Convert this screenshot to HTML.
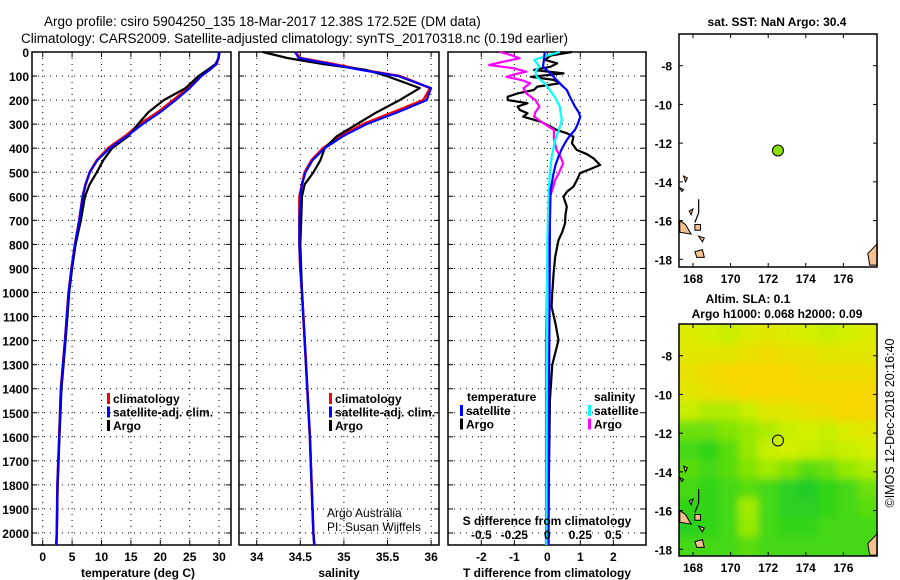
<!DOCTYPE html>
<html><head><meta charset="utf-8">
<style>
html,body{margin:0;padding:0;background:#fff;}
svg{display:block;font-family:"Liberation Sans",sans-serif;}
.t{font-weight:bold;font-size:12px;fill:#000;}
.ti{font-size:13.5px;fill:#000;}
</style></head>
<body>
<svg id="chart" width="900" height="580" viewBox="0 0 900 580" xmlns="http://www.w3.org/2000/svg">
<text class="ti" x="44" y="26">Argo profile: csiro 5904250_135 18-Mar-2017 12.38S 172.52E (DM data)</text>
<text class="ti" x="21" y="43">Climatology: CARS2009. Satellite-adjusted climatology: synTS_20170318.nc (0.19d earlier)</text>
<g id="g"></g>
</svg>
<script>
// ---- data ----
const depthT = [0,25,50,75,100,150,200,250,300,350,400,450,500,550,600,700,800,900,1000,1200,1400,1600,1800,2000,2050];
const tempClim = [30,29.9,29.6,28.3,26.7,24.7,22.2,19.6,16.5,14,11.1,9.2,8.0,7.3,6.8,6.2,5.5,4.9,4.4,3.8,3.1,2.8,2.5,2.4,2.3];
const tempSat  = [30,29.9,29.5,28.4,27.0,25.0,22.6,20.0,17.0,14.3,11.4,9.3,8.0,7.3,6.8,6.2,5.5,4.9,4.4,3.8,3.1,2.8,2.5,2.4,2.3];
const tempArgo = [30.1,29.9,29.4,28.0,26.5,24.3,20.6,18.0,16.2,14.6,11.8,10.3,9.2,8.0,7.2,6.5,5.6,5.0,4.5,3.9,3.2,2.85,2.55,2.4,2.35];
const salClim = [34.44,34.5,34.88,35.22,35.64,35.99,35.91,35.57,35.22,34.96,34.76,34.63,34.55,34.52,34.49,34.49,34.49,34.5,34.52,34.55,34.58,34.61,34.63,34.65,34.66];
const salSat  = [34.44,34.48,34.84,35.2,35.62,36.0,35.95,35.62,35.26,34.99,34.78,34.64,34.56,34.52,34.5,34.49,34.49,34.5,34.52,34.55,34.58,34.61,34.63,34.65,34.66];
const salArgo = [34.07,34.35,34.76,35.26,35.49,35.87,35.64,35.38,35.15,34.92,34.78,34.73,34.65,34.55,34.52,34.51,34.5,34.51,34.52,34.55,34.58,34.61,34.63,34.65,34.66];
// difference panel: each series has its own depth levels
const depthTArgoD = [0,15,33,47,61,75,89,103,116,130,144,158,172,186,200,213,227,241,255,269,290,310,324,338,352,380,407,425,442,456,470,487,504,532,560,580,602,643,680,712,750,782,851,920,1000,1059,1130,1198,1300,1450,1650,1850,2050];
const dTArgo      = [0.74,0.1,-0.07,0.3,0.1,-0.4,0.49,-0.5,0.2,0.38,-0.3,-0.41,-0.9,-1.2,-1.2,-0.6,-0.9,-0.83,-0.6,-0.73,-0.2,0.1,0.28,0.6,0.79,0.75,0.89,1.2,1.4,1.5,1.6,1.3,0.99,0.9,0.79,0.6,0.49,0.59,0.55,0.54,0.45,0.34,0.24,0.19,0.15,0.13,0.25,0.34,0.15,0.08,0.06,0.04,0.03];
const depthTSatD = [0,30,61,90,116,140,158,190,227,250,269,300,324,345,366,400,435,470,504,574,712,1000,1500,2050];
const dTSat      = [-0.08,-0.1,-0.13,0.1,0.28,0.45,0.59,0.7,0.84,0.95,1.0,0.92,0.84,0.7,0.59,0.45,0.34,0.25,0.19,0.1,0.08,0.07,0.05,0.04];
const depthSSatD = [0,15,33,60,80,103,130,158,190,227,250,283,320,366,430,504,600,782,1200,2050];
const dSSat      = [0.095,0.0,-0.1,-0.06,-0.09,-0.08,-0.02,0.02,0.06,0.095,0.1,0.11,0.09,0.06,0.035,0.02,0.01,0.0,-0.003,-0.005];
const depthSArgoD = [0,12,26,40,54,68,82,92,103,116,130,150,172,200,227,250,269,300,324,360,407,435,463,500,532,570,602,660,712,900,1200,2050];
const dSArgo      = [-0.36,-0.28,-0.21,-0.33,-0.44,-0.25,-0.16,-0.24,-0.31,-0.2,-0.13,-0.18,-0.16,-0.09,-0.06,-0.09,-0.10,-0.02,0.05,0.05,0.07,0.1,0.12,0.09,0.06,0.04,0.02,0.015,0.01,0.0,-0.01,-0.01];
const depthTicks = [0,100,200,300,400,500,600,700,800,900,1000,1100,1200,1300,1400,1500,1600,1700,1800,1900,2000];
const tempTicks = [0,5,10,15,20,25,30];
const salTicks = [34,34.5,35,35.5,36];
const salTickLabels = ["34","34.5","35","35.5","36"];
const dTTicks = [-2,-1,0,1,2];
const dSTicks = [-0.5,-0.25,0,0.25,0.5];
const dSTickLabels = ["-0.5","-0.25","0","0.25","0.5"];
const latTicks = [-8,-10,-12,-14,-16,-18];
const lonTicks = [168,170,172,174,176];
const argoLon = 172.52, argoLat = -12.38;
const slaField = [
 [0.8,0.75,0.7,0.8,0.85,0.8,0.75,0.7,0.75,0.8],
 [0.85,0.85,0.85,0.9,0.95,0.9,0.9,0.85,0.85,0.85],
 [0.9,0.95,1,1,1,1,0.95,0.95,0.95,0.95],
 [0.85,0.9,0.95,1,1,1,1,1,1,1],
 [0.7,0.6,0.6,0.7,0.85,0.85,0.9,0.95,1,1],
 [0.4,0.4,0.45,0.5,0.6,0.7,0.75,0.7,0.8,0.85],
 [0.3,0.25,0.35,0.5,0.7,0.75,0.7,0.65,0.7,0.75],
 [0.35,0.3,0.35,0.45,0.55,0.45,0.35,0.4,0.5,0.6],
 [0.3,0.25,0.3,0.35,0.3,0.2,0.15,0.25,0.3,0.4],
 [0.25,0.25,0.3,0.55,0.3,0.2,0.2,0.25,0.3,0.35],
 [0.2,0.25,0.3,0.5,0.3,0.25,0.25,0.3,0.3,0.3],
 [0.3,0.3,0.3,0.35,0.3,0.3,0.3,0.3,0.3,0.3]];

// ---- drawing ----
const NS="http://www.w3.org/2000/svg";
const G=document.getElementById('g');
function mk(tag,attrs,parent){const e=document.createElementNS(NS,tag);for(const k in attrs)e.setAttribute(k,attrs[k]);(parent||G).appendChild(e);return e;}
function txt(x,y,s,anchor,cls,parent){const e=mk('text',{x:x,y:y,'text-anchor':anchor||'start','class':cls||'t'},parent);e.textContent=s;return e;}
const PT=52, PB=545;
const yD=d=>PT+d*0.2405;
const xT=t=>42.7+t*5.88;
const xS=s=>256.7+(s-34)*87.2;
const xDT=v=>547.3+v*33;
const xDS=v=>547.3+v*132;

function panel(x0,x1,name,vticks,xf){
  const g=mk('g',{});
  
  
  depthTicks.forEach(d=>{if(d>0)mk('line',{x1:x0,x2:x1,y1:yD(d),y2:yD(d),stroke:'#000','stroke-width':1,'stroke-dasharray':'1 5'},g);
    mk('line',{x1:x0,x2:x0+5,y1:yD(d),y2:yD(d),stroke:'#000'},g);mk('line',{x1:x1-5,x2:x1,y1:yD(d),y2:yD(d),stroke:'#000'},g);});
  vticks.forEach(v=>{const x=xf(v);mk('line',{x1:x,x2:x,y1:PT,y2:PB,stroke:'#000','stroke-dasharray':'1 5'},g);
    mk('line',{x1:x,x2:x,y1:PT,y2:PT+5,stroke:'#000'},g);mk('line',{x1:x,x2:x,y1:PB-5,y2:PB,stroke:'#000'},g);});
  mk('rect',{x:x0,y:PT,width:x1-x0,height:PB-PT,fill:'none',stroke:'#000','stroke-width':1.5},g);
  return g;
}
function line(xs,ds,xf,color,name,w){
  const pts=xs.map((v,i)=>xf(v).toFixed(1)+','+yD(ds[i]).toFixed(1)).join(' ');
  const p=mk('polyline',{points:pts,fill:'none',stroke:color,'stroke-width':w||2.2,'stroke-linejoin':'round'});
  
  
}
function legend(x,y,items){items.forEach((it,i)=>{mk('rect',{x:x,y:y+i*13.5-10,width:3,height:11,fill:it[1]});txt(x+6,y+i*13.5,it[0]);});}

depthTicks.forEach(d=>txt(29,yD(d)+5,String(d),'end'));

// panel 1
panel(32,231,'temperature-panel',tempTicks,xT);
tempTicks.forEach(t=>txt(xT(t),561,String(t),'middle'));
txt(138,577,'temperature (deg C)','middle');
line(tempClim,depthT,xT,'#f00','temp-climatology-line',2.6);
line(tempArgo,depthT,xT,'#000','temp-argo-line');
line(tempSat,depthT,xT,'#00f','temp-satellite-line');
legend(107,403,[['climatology','#f00'],['satellite-adj. clim.','#00f'],['Argo','#000']]);

// panel 2
panel(239,439,'salinity-panel',salTicks,xS);
salTicks.forEach((s,i)=>txt(xS(s),561,salTickLabels[i],'middle'));
txt(339,577,'salinity','middle');
line(salClim,depthT,xS,'#f00','sal-climatology-line',2.6);
line(salArgo,depthT,xS,'#000','sal-argo-line');
line(salSat,depthT,xS,'#00f','sal-satellite-line');
legend(329,403,[['climatology','#f00'],['satellite-adj. clim.','#00f'],['Argo','#000']]);
txt(327,517,'Argo Australia','start','ti').setAttribute('style','font-size:12px');
txt(327,531,'PI: Susan Wijffels','start','ti').setAttribute('style','font-size:12px');

// panel 3
panel(448,646,'difference-panel',dTTicks,xDT);
dTTicks.forEach(t=>txt(xDT(t),561,String(t),'middle'));
txt(547,577,'T difference from climatology','middle');
line(dTArgo,depthTArgoD,xDT,'#000','temp-argo-diff-line');
line(dSArgo,depthSArgoD,xDS,'#f0f','sal-argo-diff-line');
line(dSSat,depthSSatD,xDS,'#0ff','sal-satellite-diff-line');
line(dTSat,depthTSatD,xDT,'#00f','temp-satellite-diff-line');
txt(547,525,'S difference from climatology','middle');
dSTicks.forEach((s,i)=>txt(xDS(s),539,dSTickLabels[i],'middle'));
txt(467,401,'temperature');
legend(460,415,[['satellite','#00f'],['Argo','#000']]);
txt(594,401,'salinity');
legend(588,415,[['satellite','#0ff'],['Argo','#f0f']]);

// maps
const MX0=679,MX1=877;
const xL=l=>693+(l-168)*18.8;
function mapFrame(top,bot,name,yLat){
  const g=mk('g',{});
  
  
  latTicks.forEach(l=>{const y=yLat(l);mk('line',{x1:MX0,x2:MX0+4,y1:y,y2:y,stroke:'#000'},g);mk('line',{x1:MX1-4,x2:MX1,y1:y,y2:y,stroke:'#000'},g);txt(672,y+5,String(l),'end','t',g);});
  lonTicks.forEach(l=>{const x=xL(l);mk('line',{x1:x,x2:x,y1:top,y2:top+4,stroke:'#000'},g);mk('line',{x1:x,x2:x,y1:bot-4,y2:bot,stroke:'#000'},g);txt(x,bot+16,String(l),'middle','t',g);});
  return g;
}
function land(yLat,g){
  const shapes=[[[167.3,-16.0],[167.6,-16.2],[167.9,-16.7],[167.3,-16.6]],[[168.1,-16.2],[168.4,-16.2],[168.4,-16.5],[168.1,-16.5]],[[168.1,-17.6],[168.5,-17.5],[168.6,-17.9],[168.2,-17.9]],[[177.8,-17.2],[177.3,-17.7],[177.4,-18.3],[177.8,-18.3]],[[167.5,-13.7],[167.7,-13.8],[167.6,-14.0]],[[167.3,-14.3],[167.5,-14.4],[167.4,-14.5]],[[167.8,-15.5],[168.0,-15.4],[167.9,-15.7]],[[168.3,-16.8],[168.6,-16.9],[168.5,-17.1]]];
  shapes.forEach(s=>mk('polygon',{points:s.map(p=>xL(p[0]).toFixed(1)+','+yLat(p[1]).toFixed(1)).join(' '),fill:'#f8c090',stroke:'#000','stroke-width':1},g));
  mk('polyline',{points:[[168.3,-14.9],[168.3,-15.6],[168.1,-16.1]].map(p=>xL(p[0])+','+yLat(p[1])).join(' '),fill:'none',stroke:'#000','stroke-width':1.2},g);
}
const yLatA=l=>65.7+(-8-l)*19.36;
mk('rect',{x:MX0,y:34,width:MX1-MX0,height:233,fill:'#fff'});
const gA=mapFrame(34,267,'sst-map',yLatA);
land(yLatA,gA);
mk('rect',{x:MX0,y:34,width:MX1-MX0,height:233,fill:'none',stroke:'#000','stroke-width':1.5},gA);
const cA=mk('circle',{cx:xL(argoLon),cy:yLatA(argoLat),r:5.5,fill:'#88e000',stroke:'#000'});


txt(777,26,'sat. SST: NaN Argo: 30.4','middle');

const yLatB=l=>355.7+(-8-l)*19.36;
const pal=v=>{const stops=[[0,[16,192,64]],[0.25,[48,212,24]],[0.5,[150,232,0]],[0.75,[212,240,0]],[1,[245,214,0]]];
  for(let i=1;i<stops.length;i++){if(v<=stops[i][0]){const a=stops[i-1],b=stops[i],f=(v-a[0])/(b[0]-a[0]);return 'rgb('+a[1].map((c,k)=>Math.round(c+(b[1][k]-c)*f)).join(',')+')';}}return 'rgb(245,214,0)';};
const defs=mk('defs',{});
const clip=mk('clipPath',{id:'mclip'},defs);mk('rect',{x:MX0,y:324,width:MX1-MX0,height:232},clip);
const flt=mk('filter',{id:'blur',x:'-10%',y:'-10%',width:'120%',height:'120%'},defs);mk('feGaussianBlur',{stdDeviation:4},flt);
const outer=mk('g',{'clip-path':'url(#mclip)'});


const field=mk('g',{filter:'url(#blur)'},outer);
const nr=slaField.length,nc=slaField[0].length,cw=(MX1-MX0)/nc,ch=232/nr;
slaField.forEach((row,r)=>row.forEach((v,c)=>{const cell=mk('rect',{x:MX0+c*cw-(c==0?15:0),y:324+r*ch-(r==0?15:0),width:cw+1+(c==0||c==nc-1?15:0),height:ch+1+(r==0||r==nr-1?15:0),fill:pal(v)},field);
  
  }));
const gB=mapFrame(324,556,'sla-map',yLatB);
land(yLatB,gB);
mk('rect',{x:MX0,y:324,width:MX1-MX0,height:232,fill:'none',stroke:'#000','stroke-width':1.5},gB);
const cB=mk('circle',{cx:xL(argoLon),cy:yLatB(argoLat),r:5.5,fill:'none',stroke:'#000'});


txt(748,303,'Altim. SLA: 0.1','middle');
txt(777,318,'Argo h1000: 0.068 h2000: 0.09','middle');
const cr=txt(0,0,'©IMOS 12-Dec-2018 20:16:40','middle','ti');
cr.setAttribute('transform','translate(894,423) rotate(-90)');
cr.setAttribute('style','font-size:12.5px');


</script>
</body></html>
